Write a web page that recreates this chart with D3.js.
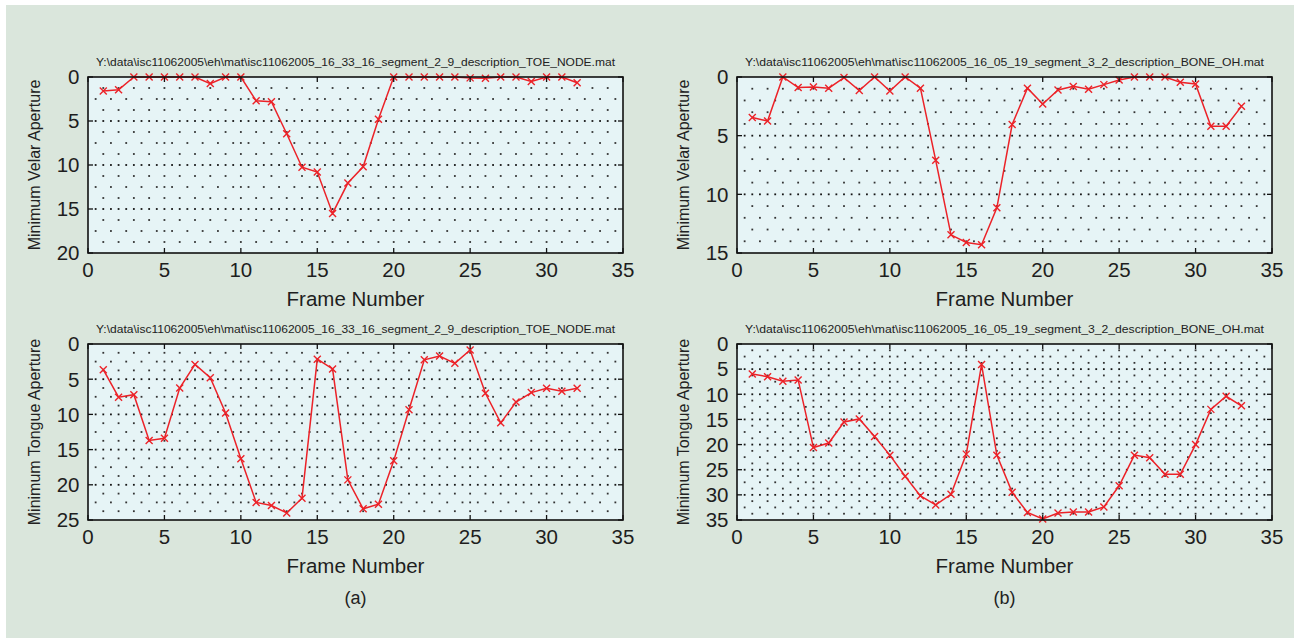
<!DOCTYPE html>
<html>
<head>
<meta charset="utf-8">
<script src="https://cdn.jsdelivr.net/npm/d3@7"></script>
<style>
  html, body { margin: 0; padding: 0; background: #fff; }
  svg { display: block; font-family: "Liberation Sans", Arial, Helvetica, sans-serif; }
</style>
</head>
<body>
<svg id="chart" width="1294" height="638"></svg>
<script>
// frame numbers of the two recordings
var framesA = [1, 2, 3, 4, 5, 6, 7, 8, 9, 10, 11, 12, 13, 14, 15, 16, 17, 18, 19, 20, 21, 22, 23, 24, 25, 26, 27, 28, 29, 30, 31, 32]
var framesB = [1, 2, 3, 4, 5, 6, 7, 8, 9, 10, 11, 12, 13, 14, 15, 16, 17, 18, 19, 20, 21, 22, 23, 24, 25, 26, 27, 28, 29, 30, 31, 32, 33]

// apertures
var velarA = [1.6, 1.45, 0, 0, 0, 0, 0, 0.75, 0, 0, 2.7, 2.8, 6.45, 10.25, 10.8, 15.5, 12.05, 10.2, 4.8, 0, 0, 0, 0, 0, 0.1, 0.15, 0, 0, 0.5, 0, 0, 0.65]
var velarB = [3.45, 3.75, 0, 0.9, 0.85, 0.95, 0.05, 1.15, 0, 1.2, 0, 0.95, 7.1, 13.45, 14.1, 14.3, 11.15, 4.05, 0.95, 2.3, 1.1, 0.8, 1.05, 0.65, 0.25, 0, 0, 0, 0.45, 0.6, 4.2, 4.2, 2.5]
var tongueA = [3.65, 7.55, 7.2, 13.7, 13.4, 6.25, 2.9, 4.8, 9.8, 16.3, 22.5, 22.95, 24.0, 21.9, 2.15, 3.55, 19.3, 23.4, 22.75, 16.6, 9.35, 2.25, 1.7, 2.75, 0.85, 7.0, 11.2, 8.25, 6.9, 6.3, 6.7, 6.3]
var tongueB = [5.95, 6.5, 7.4, 7.15, 20.6, 19.7, 15.5, 14.9, 18.4, 22.1, 26.3, 30.2, 32.0, 29.9, 21.9, 4.1, 22.1, 29.5, 33.5, 34.8, 33.6, 33.4, 33.4, 32.4, 28.2, 22.1, 22.6, 25.9, 25.9, 20.0, 13.0, 10.4, 12.3]

var fileA = 'Y:\\data\\isc11062005\\eh\\mat\\isc11062005_16_33_16_segment_2_9_description_TOE_NODE.mat'
var fileB = 'Y:\\data\\isc11062005\\eh\\mat\\isc11062005_16_05_19_segment_3_2_description_BONE_OH.mat'

var xTicks = [0, 5, 10, 15, 20, 25, 30, 35]
var velarTicksA = [0, 5, 10, 15, 20]
var velarTicksB = [0, 5, 10, 15]
var tongueTicksA = [0, 5, 10, 15, 20, 25]
var tongueTicksB = [0, 5, 10, 15, 20, 25, 30, 35]

var panels = [
  { title: fileA, ylabel: 'Minimum Velar Aperture', frames: framesA, values: velarA, yTicks: velarTicksA, minor: 4,
    box: { x0: 88, x1: 623, y0: 77, y1: 253 } },
  { title: fileB, ylabel: 'Minimum Velar Aperture', frames: framesB, values: velarB, yTicks: velarTicksB, minor: 5,
    box: { x0: 737, x1: 1272, y0: 77, y1: 253 } },
  { title: fileA, ylabel: 'Minimum Tongue Aperture', frames: framesA, values: tongueA, yTicks: tongueTicksA, minor: 4,
    box: { x0: 88, x1: 623, y0: 344, y1: 520 }, caption: '(a)' },
  { title: fileB, ylabel: 'Minimum Tongue Aperture', frames: framesB, values: tongueB, yTicks: tongueTicksB, minor: 4,
    box: { x0: 737, x1: 1272, y0: 344, y1: 520 }, caption: '(b)' }
]

var red = '#ec2228'
var svg = d3.select('#chart')

svg.append('rect')
  .attr('x', 6).attr('y', 5)
  .attr('width', 1288).attr('height', 633)
  .attr('fill', '#dae6dc')

panels.forEach(function(p) { drawPanel(p) })

function drawPanel(p) {
  var b = p.box
  var x = d3.scaleLinear().domain([0, 35]).range([b.x0, b.x1])
  var yMax = p.yTicks[p.yTicks.length - 1]
  var y = d3.scaleLinear().domain([0, yMax]).range([b.y0, b.y1])
  var g = svg.append('g')

  g.append('rect')
    .attr('x', b.x0).attr('y', b.y0)
    .attr('width', b.x1 - b.x0).attr('height', b.y1 - b.y0)
    .attr('fill', '#e6f4f6')

  // dotted grid: minor rows between major ticks, dots staggered along them
  var step = 5 / p.minor
  var rows = d3.range(1, yMax / step)
  var dots = []
  rows.forEach(function(k) {
    var v = k * step
    var major = k % p.minor === 0
    d3.range(1, 70).forEach(function(j) {
      var xv = j / 2
      var onInt = j % 2 === 0
      var onMajorCol = onInt && xv % 5 === 0
      if (major || onMajorCol || (k % 2 === 1 ? onInt : !onInt)) {
        dots.push({ x: xv, y: v, major: major })
      }
    })
  })
  g.append('g').selectAll('rect')
    .data(dots)
    .enter()
    .append('rect')
    .attr('x', (d) => x(d.x) - 0.9)
    .attr('y', (d) => y(d.y) - 0.9)
    .attr('width', 1.8)
    .attr('height', 1.8)
    .attr('fill', (d) => d.major ? '#151515' : '#333')

  var line = d3.line()
    .x((d, i) => x(p.frames[i]))
    .y((d) => y(d))

  g.append('path')
    .datum(p.values)
    .attr('d', line)
    .attr('fill', 'none')
    .attr('stroke', red)
    .attr('stroke-width', 1.5)

  g.append('g').selectAll('path')
    .data(p.values)
    .enter()
    .append('path')
    .attr('d', function(d, i) {
      var cx = x(p.frames[i]), cy = y(d), r = 3.5
      return `M${cx - r},${cy - r}L${cx + r},${cy + r}M${cx - r},${cy + r}L${cx + r},${cy - r}`
    })
    .attr('stroke', red)
    .attr('stroke-width', 1.4)

  // frame and inward ticks
  g.append('rect')
    .attr('x', b.x0).attr('y', b.y0)
    .attr('width', b.x1 - b.x0).attr('height', b.y1 - b.y0)
    .attr('fill', 'none')
    .attr('stroke', '#111')
    .attr('stroke-width', 1.6)

  var tl = 5
  var tick = g.append('g').attr('stroke', '#111').attr('stroke-width', 1.3)
  xTicks.forEach(function(t) {
    tick.append('line').attr('x1', x(t)).attr('x2', x(t)).attr('y1', b.y1).attr('y2', b.y1 - tl)
    tick.append('line').attr('x1', x(t)).attr('x2', x(t)).attr('y1', b.y0).attr('y2', b.y0 + tl)
  })
  p.yTicks.forEach(function(t) {
    tick.append('line').attr('x1', b.x0).attr('x2', b.x0 + tl).attr('y1', y(t)).attr('y2', y(t))
    tick.append('line').attr('x1', b.x1).attr('x2', b.x1 - tl).attr('y1', y(t)).attr('y2', y(t))
  })

  // tick labels
  g.append('g').selectAll('text')
    .data(xTicks)
    .enter()
    .append('text')
    .attr('x', (d) => x(d))
    .attr('y', b.y1 + 23.5)
    .attr('text-anchor', 'middle')
    .attr('font-size', 20.5)
    .attr('fill', '#1e1e1e')
    .text((d) => d)

  g.append('g').selectAll('text')
    .data(p.yTicks)
    .enter()
    .append('text')
    .attr('x', b.x0 - 8.5)
    .attr('y', (d) => y(d) + 7.3)
    .attr('text-anchor', 'end')
    .attr('font-size', 20.5)
    .attr('fill', '#1e1e1e')
    .text((d) => d)

  var cx = (b.x0 + b.x1) / 2

  g.append('text')
    .attr('x', cx)
    .attr('y', b.y0 - 11.5)
    .attr('text-anchor', 'middle')
    .attr('font-size', 11.5)
    .attr('textLength', 519)
    .attr('lengthAdjust', 'spacingAndGlyphs')
    .attr('fill', '#222')
    .text(p.title)

  g.append('text')
    .attr('x', cx)
    .attr('y', b.y1 + 53)
    .attr('text-anchor', 'middle')
    .attr('font-size', 20.5)
    .attr('fill', '#1e1e1e')
    .text('Frame Number')

  var ly = (b.y0 + b.y1) / 2
  var lx = b.x0 - 48
  g.append('text')
    .attr('transform', `translate(${lx},${ly}) rotate(-90)`)
    .attr('text-anchor', 'middle')
    .attr('font-size', 16)
    .attr('fill', '#222')
    .text(p.ylabel)

  if (p.caption) {
    g.append('text')
      .attr('x', cx)
      .attr('y', b.y1 + 84)
      .attr('text-anchor', 'middle')
      .attr('font-size', 18)
      .attr('fill', '#222')
      .text(p.caption)
  }
}
</script>
</body>
</html>
